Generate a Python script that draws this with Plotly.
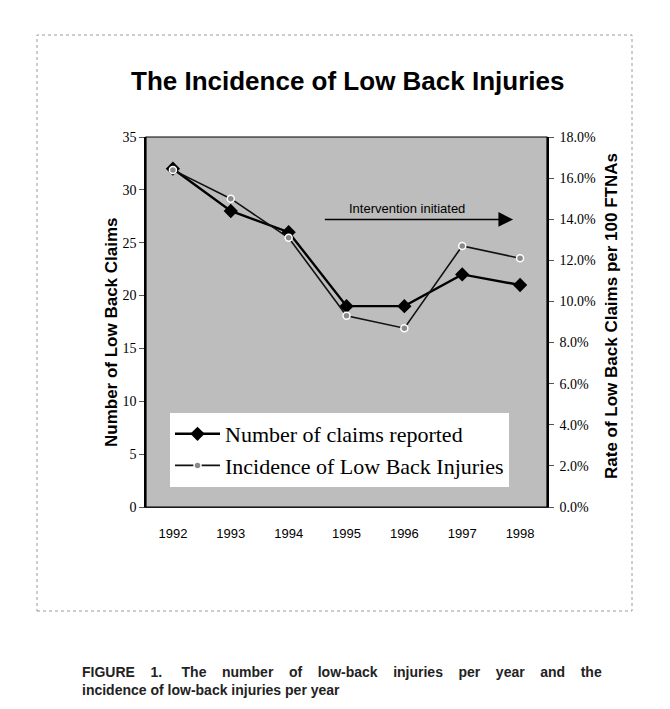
import plotly.graph_objects as go

years = ["1992", "1993", "1994", "1995", "1996", "1997", "1998"]
claims = [32, 28, 26, 19, 19, 22, 21]
incidence = [0.164, 0.150, 0.131, 0.093, 0.087, 0.127, 0.121]
left_ticks = [0, 5, 10, 15, 20, 25, 30, 35]
right_ticks = [0.0, 0.02, 0.04, 0.06, 0.08, 0.10, 0.12, 0.14, 0.16, 0.18]

W, H = 670, 709
PL, PR, PT, PB = 146, 547, 137, 507
pw, ph = PR - PL, PB - PT

def px(x):
    return (x - PL) / pw

def py(y):
    return (PB - y) / ph

SERIF = "Liberation Serif, Times New Roman, serif"
SANS = "Liberation Sans, Arial, sans-serif"

fig = go.Figure()
fig.add_trace(go.Scatter(
    x=years, y=claims, name="Number of claims reported",
    mode="lines+markers",
    line=dict(color="black", width=2.4),
    marker=dict(symbol="diamond", size=11, color="black"),
    yaxis="y",
))
fig.add_trace(go.Scatter(
    x=years, y=incidence, name="Incidence of Low Back Injuries",
    mode="lines+markers",
    line=dict(color="#111111", width=1.6),
    marker=dict(symbol="circle", size=7, color="#8a8a8a", line=dict(color="white", width=1.5)),
    yaxis="y2",
))

fig.update_layout(
    width=W, height=H,
    margin=dict(l=PL, r=W - PR, t=PT, b=H - PB, pad=0),
    paper_bgcolor="white",
    plot_bgcolor="#bdbdbd",
    showlegend=True,
    legend=dict(
        x=px(170), y=py(487), xanchor="left", yanchor="bottom",
        bgcolor="white", borderwidth=0,
        font=dict(family=SERIF, size=22, color="black"),
        tracegroupgap=0, itemwidth=45,
    ),
    xaxis=dict(
        type="category", categoryorder="array", categoryarray=years,
        showgrid=False, zeroline=False,
        showline=True, linecolor="#333", linewidth=1, mirror=False,
        ticks="", tickfont=dict(family=SANS, size=13, color="black"),
        ticklabelstandoff=14,
    ),
    yaxis=dict(
        range=[0, 35], tickvals=left_ticks, ticktext=[str(v) for v in left_ticks],
        showgrid=False, zeroline=False,
        showline=True, linecolor="black", linewidth=1.5,
        ticks="outside", ticklen=5, tickcolor="#555",
        tickfont=dict(family=SERIF, size=14, color="black"),
        ticklabelstandoff=0,
    ),
    yaxis2=dict(
        range=[0, 0.18], tickvals=right_ticks,
        ticktext=[f"{v*100:.1f}%" for v in right_ticks],
        overlaying="y", side="right",
        showgrid=False, zeroline=False,
        showline=True, linecolor="black", linewidth=1.5,
        ticks="outside", ticklen=5, tickcolor="#555",
        tickfont=dict(family=SERIF, size=14, color="black"),
        ticklabelstandoff=3,
    ),
)

# axis titles
fig.add_annotation(
    xref="paper", yref="paper", x=px(111), y=py(332), xanchor="center", yanchor="middle",
    text="<b>Number of Low Back Claims</b>", textangle=-90, showarrow=False,
    font=dict(family=SANS, size=17, color="black"),
)
fig.add_annotation(
    xref="paper", yref="paper", x=px(611), y=py(316), xanchor="center", yanchor="middle",
    text="<b>Rate of Low Back Claims per 100 FTNAs</b>", textangle=-90, showarrow=False,
    font=dict(family=SANS, size=17, color="black"),
)

# border of plot area
fig.add_shape(type="rect", xref="paper", yref="paper", x0=0, x1=1, y0=0, y1=1,
              line=dict(color="black", width=1.2), layer="above")

# arrow "Intervention initiated"
fig.add_annotation(
    xref="x", yref="y", axref="x", ayref="y",
    x=5.88, y=27.2, ax=2.6, ay=27.2,
    text="", showarrow=True, arrowhead=2, arrowsize=2.1, arrowwidth=1.4, arrowcolor="black",
)
fig.add_annotation(
    xref="x", yref="y", x=4.05, y=27.3, yanchor="bottom",
    text="Intervention initiated", showarrow=False,
    font=dict(family=SANS, size=13, color="black"),
)

# title
fig.add_annotation(
    xref="paper", yref="paper", x=px(347), y=py(81), xanchor="center", yanchor="middle",
    text="<b>The Incidence of Low Back Injuries</b>", showarrow=False,
    font=dict(family=SANS, size=26, color="black"),
)

# outer dashed frame
fig.add_shape(type="rect", xref="paper", yref="paper",
              x0=px(37), x1=px(632), y0=py(611), y1=py(35),
              line=dict(color="#9a9a9a", width=1, dash="dot"), layer="below")

# caption
gap = " " + "&nbsp;" * 3
line1 = gap.join(["FIGURE", "1.&nbsp;", "The", "number", "of", "low-back", "injuries", "per", "year", "and", "the"])
fig.add_annotation(
    xref="paper", yref="paper", x=px(80), y=py(672), xanchor="left", yanchor="middle",
    text=f"<b>{line1}</b>", showarrow=False,
    font=dict(family=SANS, size=14, color="#222"),
)
fig.add_annotation(
    xref="paper", yref="paper", x=px(80), y=py(690), xanchor="left", yanchor="middle",
    text="<b>incidence of low-back injuries per year</b>", showarrow=False,
    font=dict(family=SANS, size=14, color="#222"),
)

fig.write_html("out.html", post_script="document.body.style.margin='0';",
               config={"displayModeBar": False})
